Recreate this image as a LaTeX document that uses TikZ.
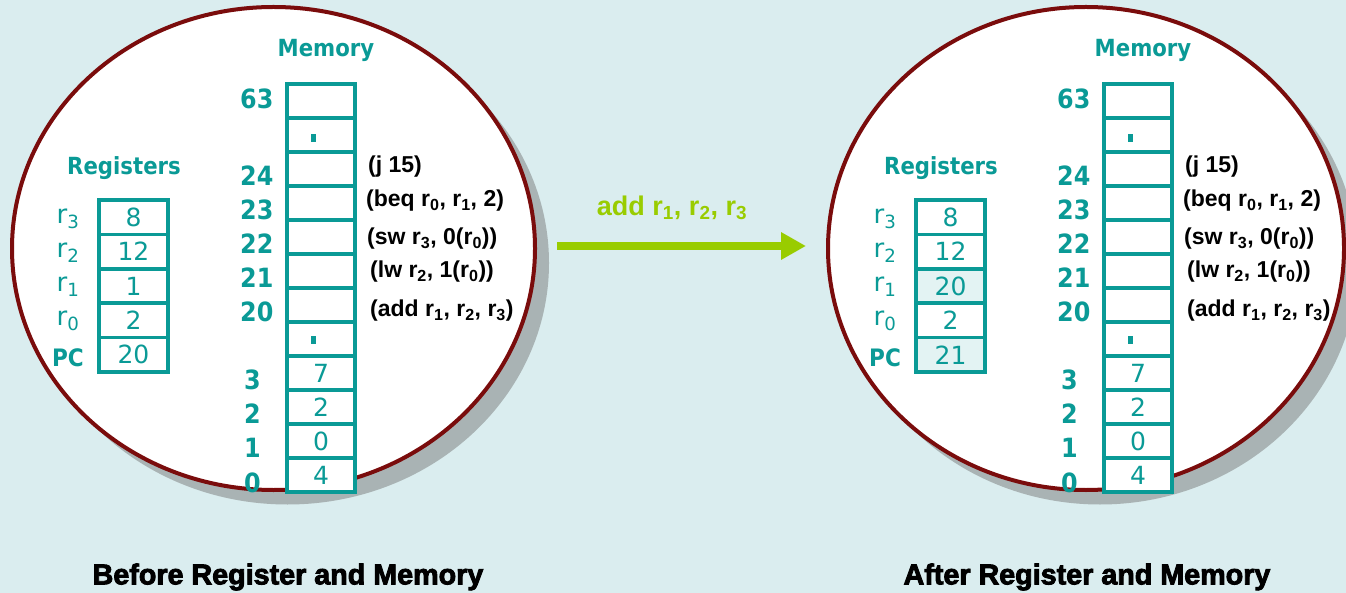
\documentclass[tikz,border=0pt]{standalone}
\usepackage{fontspec}
\setmainfont{Liberation Sans}
\newfontfamily\tealfont{DejaVu Sans}
\newfontfamily\tealmed[FakeStretch=0.9]{DejaVu Sans Bold}
\newfontfamily\heavyfont[BoldFont={Liberation Sans Bold},BoldFeatures={FakeBold=3}]{Liberation Sans}
\usetikzlibrary{arrows.meta}
\definecolor{bgc}{HTML}{DAEDEF}
\definecolor{tealc}{HTML}{0A9A96}
\definecolor{ringc}{HTML}{7A0C0C}
\definecolor{shadec}{HTML}{A9B3B4}
\definecolor{limec}{HTML}{99CC00}
\definecolor{cellhi}{HTML}{E3F3F3}
\tikzset{
  memcell/.style={draw=tealc, line width=3.5, fill=white, minimum width=68, minimum height=34, inner sep=0,
     text=tealc, font=\tealfont\fontsize{25}{27}\selectfont},
  regcell/.style={draw=tealc, line width=3.5, minimum width=69, minimum height=34.4, inner sep=0,
     text=tealc, font=\tealfont\fontsize{25}{27}\selectfont},
  ttitle/.style={text=tealc, font=\tealmed\fontsize{23.6}{26}\selectfont, inner sep=0},
  addrlab/.style={text=tealc, font=\tealmed\fontsize{26.5}{28}\selectfont, inner sep=0, anchor=west},
  reglab/.style={text=tealc, font=\tealfont\fontsize{26}{28}\selectfont, inner sep=0},
  pclab/.style={text=tealc, font=\tealmed\fontsize{24}{26}\selectfont, inner sep=0},
  instr/.style={text=black, font=\bfseries\fontsize{23}{25}\selectfont, inner sep=0, anchor=west},
  dotmark/.style={fill=tealc, minimum width=5, minimum height=8, inner sep=0},
  caption/.style={text=black, font=\heavyfont\bfseries\fontsize{28.7}{32}\selectfont, inner sep=0},
}
\newcommand\drawpanel[7]{% #1 prefix, #2 xshift, #3 r1 value, #4 PC value, #5 highlight fill, #6 ellipse cx, #7 ellipse rx
\begin{scope}[xshift=#2]
\fill[shadec] ({#6+14},263) ellipse [x radius=#7, y radius=241.5];
\draw[ringc, line width=4, fill=white] (#6,248.5) ellipse [x radius=#7, y radius=241.5];
\node[ttitle] (#1memt) at (326,50) {Memory};
\node[ttitle] (#1regt) at (124,168) {Registers};
\foreach \i in {0,...,7} {\node[memcell] (#1m\i) at (321,{101+34*\i}) {};}
\foreach \i/\v in {8/7,9/2,10/0,11/4} {\node[memcell] (#1m\i) at (321,{101+34*\i}) {\v};}
\node[dotmark] (#1dota) at (313,138) {};
\node[dotmark] (#1dotb) at (313,340) {};
\foreach \n/\t/\y in {a/63/99,b/24/176,c/23/210,d/22/244,e/21/278,f/20/312} {\node[addrlab] (#1ad\n) at (240,\y) {\t};}
\foreach \n/\t/\y in {g/3/380,h/2/414,i/1/448,j/0/483} {\node[addrlab] (#1ad\n) at (244,\y) {\t};}
\node[instr] (#1ia) at (368,167) {(j 15)};
\node[instr] (#1ib) at (366,201) {(beq r\textsubscript{0}, r\textsubscript{1}, 2)};
\node[instr] (#1ic) at (367,239) {(sw r\textsubscript{3}, 0(r\textsubscript{0}))};
\node[instr] (#1id) at (370,272) {(lw r\textsubscript{2}, 1(r\textsubscript{0}))};
\node[instr] (#1ie) at (370,311) {(add r\textsubscript{1}, r\textsubscript{2}, r\textsubscript{3})};
\node[regcell, fill=white] (#1r3) at (133.5,217.2) {8};
\node[regcell, fill=white] (#1r2) at (133.5,251.6) {12};
\node[regcell, fill=#5] (#1r1) at (133.5,286) {#3};
\node[regcell, fill=white] (#1r0) at (133.5,320.4) {2};
\node[regcell, fill=#5] (#1pc) at (133.5,354.8) {#4};
\node[reglab] (#1lr3) at (68,219) {r\textsubscript{3}};
\node[reglab] (#1lr2) at (68,253) {r\textsubscript{2}};
\node[reglab] (#1lr1) at (68,287) {r\textsubscript{1}};
\node[reglab] (#1lr0) at (68,321) {r\textsubscript{0}};
\node[pclab] (#1lpc) at (68,358) {PC};
\end{scope}}
\begin{document}
\begin{tikzpicture}[x=1pt,y=-1pt]
\useasboundingbox (0,0) rectangle (1346,593);
\clip (0,0) rectangle (1346,593);
\fill[bgc] (0,0) rectangle (1346,593);
\drawpanel{B}{0}{1}{20}{white}{273.5}{261.5}
\drawpanel{A}{817}{20}{21}{cellhi}{269}{258}
\coordinate (arrs) at (557,246);
\coordinate (arre) at (806,246);
\draw[limec, line width=8, -{Triangle[length=25, width=26]}] (arrs) -- (arre);
\node[text=limec, font=\bfseries\fontsize{27}{30}\selectfont, inner sep=0] (oplab) at (672,208) {add r\textsubscript{1}, r\textsubscript{2}, r\textsubscript{3}};
\node[caption] (capb) at (288,577) {Before Register and Memory};
\node[caption] (capa) at (1087,577) {After Register and Memory};
\end{tikzpicture}
\end{document}
